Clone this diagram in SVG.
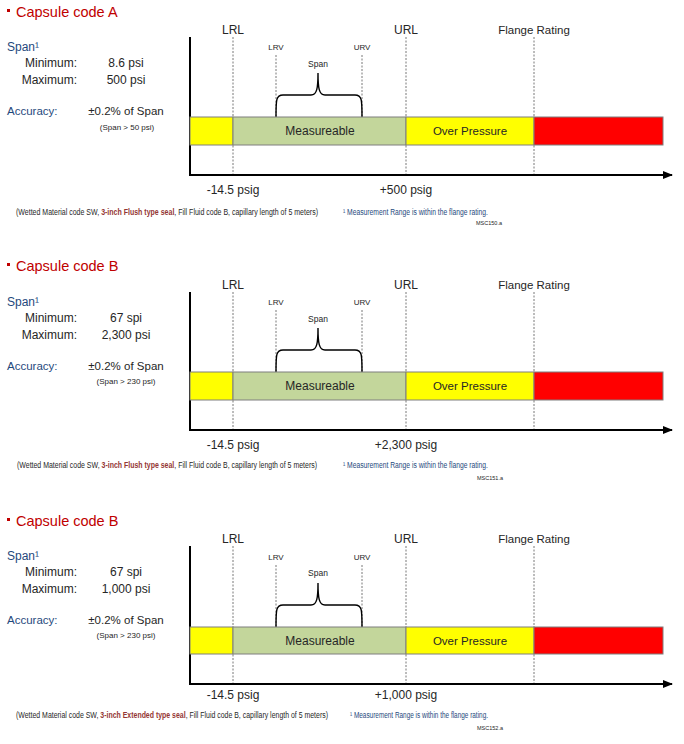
<svg xmlns="http://www.w3.org/2000/svg" width="684" height="744" viewBox="0 0 684 744">
<style>
text{font-family:"Liberation Sans",Arial,sans-serif;fill:#262626}
.title{font-size:14.5px;fill:#C00000}
.blue{fill:#1F497D}
.lbl{font-size:12px}
.lbl11{font-size:11.5px}
.sm{font-size:8px}
.tiny{font-size:5.5px}
.foot{font-size:8.5px}
.bold{font-weight:bold;fill:#943634}
.dash{stroke:#555;stroke-width:0.8;stroke-dasharray:2,1.5;fill:none}
.axis{stroke:#000;stroke-width:2;fill:none}
.seg{stroke:#7f7f7f;stroke-width:1}
.brace{stroke:#000;stroke-width:1.4;fill:none}
</style>
<defs>
<marker id="arrow" markerWidth="10" markerHeight="8" refX="9" refY="4" orient="auto" markerUnits="userSpaceOnUse">
<path d="M0,0 L10,4 L0,8 Z" fill="#000"/>
</marker>
</defs>

<!-- Panel 1 -->
<g id="panel1">
<g id="p1-left">
<rect x="7" y="9" width="3" height="3" fill="#C00000"/>
<text class="title" x="16" y="17">Capsule code A</text>
<text class="lbl blue" x="7" y="51">Span¹</text>
<text class="lbl" x="77" y="67" text-anchor="end">Minimum:</text>
<text class="lbl" x="126" y="67" text-anchor="middle">8.6 psi</text>
<text class="lbl" x="77" y="84" text-anchor="end">Maximum:</text>
<text class="lbl" x="126" y="84" text-anchor="middle">500 psi</text>
<text class="lbl blue" x="7" y="115" style="font-size:11.5px">Accuracy:</text>
<text class="lbl" x="126" y="115" text-anchor="middle" style="font-size:11.5px">±0.2% of Span</text>
<text class="sm" x="127" y="130" text-anchor="middle">(Span &gt; 50 psi)</text>
</g>
<g id="p1-connectors">
<line class="dash" x1="233" y1="37" x2="233" y2="175"/>
<line class="dash" x1="406" y1="37" x2="406" y2="175"/>
<line class="dash" x1="534" y1="37" x2="534" y2="175"/>
<line class="dash" x1="276" y1="55" x2="276" y2="117"/>
<line class="dash" x1="362" y1="55" x2="362" y2="117"/>
<path class="brace" d="M276,117 C276,100 276,95 283,95 L311,95 C317,95 318,88 318,73 C318,88 319,95 325,95 L355,95 C362,95 362,100 362,117"/>
<line class="axis" x1="190" y1="37" x2="190" y2="176"/>
<line class="axis" x1="189" y1="175" x2="672" y2="175" marker-end="url(#arrow)"/>
</g>
<g id="p1-bar">
<rect class="seg" x="190" y="117" width="43" height="28" fill="#FFFF00"/>
<rect class="seg" x="233" y="117" width="173" height="28" fill="#C3D69B"/>
<rect class="seg" x="406" y="117" width="128" height="28" fill="#FFFF00"/>
<rect class="seg" x="534" y="117" width="129" height="28" fill="#FF0000"/>
<text class="lbl" x="320" y="135" text-anchor="middle">Measureable</text>
<text class="lbl" x="470" y="135" text-anchor="middle" style="font-size:11.5px">Over Pressure</text>
</g>
<g id="p1-labels">
<text class="lbl" x="233" y="34" text-anchor="middle">LRL</text>
<text class="lbl" x="406" y="34" text-anchor="middle">URL</text>
<text class="lbl11" x="534" y="34" text-anchor="middle">Flange Rating</text>
<text class="sm" x="276" y="50" text-anchor="middle">LRV</text>
<text class="sm" x="362" y="50" text-anchor="middle">URV</text>
<text class="sm" x="318" y="67" text-anchor="middle" style="font-size:8.5px">Span</text>
<text class="lbl" x="233" y="194" text-anchor="middle">-14.5 psig</text>
<text class="lbl" x="406" y="194" text-anchor="middle">+500 psig</text>
</g>
<g id="p1-notes">
<text class="foot" x="16" y="215" textLength="302" lengthAdjust="spacingAndGlyphs">(Wetted Material code SW, <tspan class="bold">3-inch Flush type seal</tspan>, Fill Fluid code B, capillary length of 5 meters)</text>
<text class="foot blue" x="343" y="215" textLength="145" lengthAdjust="spacingAndGlyphs">¹ Measurement Range is within the flange rating.</text>
<text class="tiny" x="502" y="225" text-anchor="end">MSC150.a</text>
</g>
</g>

<!-- Panel 2 -->
<g id="panel2">
<g id="p2-left">
<rect x="7" y="263" width="3" height="3" fill="#C00000"/>
<text class="title" x="16" y="271">Capsule code B</text>
<text class="lbl blue" x="7" y="306">Span¹</text>
<text class="lbl" x="77" y="322" text-anchor="end">Minimum:</text>
<text class="lbl" x="126" y="322" text-anchor="middle">67 spi</text>
<text class="lbl" x="77" y="339" text-anchor="end">Maximum:</text>
<text class="lbl" x="126" y="339" text-anchor="middle">2,300 psi</text>
<text class="lbl blue" x="7" y="370" style="font-size:11.5px">Accuracy:</text>
<text class="lbl" x="126" y="370" text-anchor="middle" style="font-size:11.5px">±0.2% of Span</text>
<text class="sm" x="126" y="384" text-anchor="middle">(Span &gt; 230 psi)</text>
</g>
<g id="p2-connectors">
<line class="dash" x1="233" y1="292" x2="233" y2="430"/>
<line class="dash" x1="406" y1="292" x2="406" y2="430"/>
<line class="dash" x1="534" y1="292" x2="534" y2="430"/>
<line class="dash" x1="276" y1="310" x2="276" y2="372"/>
<line class="dash" x1="362" y1="310" x2="362" y2="372"/>
<path class="brace" d="M276,372 C276,355 276,350 283,350 L311,350 C317,350 318,343 318,328 C318,343 319,350 325,350 L355,350 C362,350 362,355 362,372"/>
<line class="axis" x1="190" y1="292" x2="190" y2="431"/>
<line class="axis" x1="189" y1="430" x2="672" y2="430" marker-end="url(#arrow)"/>
</g>
<g id="p2-bar">
<rect class="seg" x="190" y="372" width="43" height="28" fill="#FFFF00"/>
<rect class="seg" x="233" y="372" width="173" height="28" fill="#C3D69B"/>
<rect class="seg" x="406" y="372" width="128" height="28" fill="#FFFF00"/>
<rect class="seg" x="534" y="372" width="129" height="28" fill="#FF0000"/>
<text class="lbl" x="320" y="390" text-anchor="middle">Measureable</text>
<text class="lbl" x="470" y="390" text-anchor="middle" style="font-size:11.5px">Over Pressure</text>
</g>
<g id="p2-labels">
<text class="lbl" x="233" y="289" text-anchor="middle">LRL</text>
<text class="lbl" x="406" y="289" text-anchor="middle">URL</text>
<text class="lbl11" x="534" y="289" text-anchor="middle">Flange Rating</text>
<text class="sm" x="276" y="305" text-anchor="middle">LRV</text>
<text class="sm" x="362" y="305" text-anchor="middle">URV</text>
<text class="sm" x="318" y="322" text-anchor="middle" style="font-size:8.5px">Span</text>
<text class="lbl" x="233" y="449" text-anchor="middle">-14.5 psig</text>
<text class="lbl" x="406" y="449" text-anchor="middle">+2,300 psig</text>
</g>
<g id="p2-notes">
<text class="foot" x="17" y="468" textLength="300" lengthAdjust="spacingAndGlyphs">(Wetted Material code SW, <tspan class="bold">3-inch Flush type seal</tspan>, Fill Fluid code B, capillary length of 5 meters)</text>
<text class="foot blue" x="343" y="468" textLength="145" lengthAdjust="spacingAndGlyphs">¹ Measurement Range is within the flange rating.</text>
<text class="tiny" x="503" y="480" text-anchor="end">MSC151.a</text>
</g>
</g>

<!-- Panel 3 -->
<g id="panel3">
<g id="p3-left">
<rect x="7" y="518" width="3" height="3" fill="#C00000"/>
<text class="title" x="16" y="526">Capsule code B</text>
<text class="lbl blue" x="7" y="560">Span¹</text>
<text class="lbl" x="77" y="576" text-anchor="end">Minimum:</text>
<text class="lbl" x="126" y="576" text-anchor="middle">67 spi</text>
<text class="lbl" x="77" y="593" text-anchor="end">Maximum:</text>
<text class="lbl" x="126" y="593" text-anchor="middle">1,000 psi</text>
<text class="lbl blue" x="7" y="624" style="font-size:11.5px">Accuracy:</text>
<text class="lbl" x="126" y="624" text-anchor="middle" style="font-size:11.5px">±0.2% of Span</text>
<text class="sm" x="126" y="638" text-anchor="middle">(Span &gt; 230 psi)</text>
</g>
<g id="p3-connectors">
<line class="dash" x1="233" y1="546" x2="233" y2="684"/>
<line class="dash" x1="406" y1="546" x2="406" y2="684"/>
<line class="dash" x1="534" y1="546" x2="534" y2="684"/>
<line class="dash" x1="276" y1="565" x2="276" y2="627"/>
<line class="dash" x1="362" y1="565" x2="362" y2="627"/>
<path class="brace" d="M276,627 C276,610 276,605 283,605 L311,605 C317,605 318,598 318,583 C318,598 319,605 325,605 L355,605 C362,605 362,610 362,627"/>
<line class="axis" x1="190" y1="546" x2="190" y2="685"/>
<line class="axis" x1="189" y1="684" x2="672" y2="684" marker-end="url(#arrow)"/>
</g>
<g id="p3-bar">
<rect class="seg" x="190" y="627" width="43" height="27" fill="#FFFF00"/>
<rect class="seg" x="233" y="627" width="173" height="27" fill="#C3D69B"/>
<rect class="seg" x="406" y="627" width="128" height="27" fill="#FFFF00"/>
<rect class="seg" x="534" y="627" width="129" height="27" fill="#FF0000"/>
<text class="lbl" x="320" y="645" text-anchor="middle">Measureable</text>
<text class="lbl" x="470" y="645" text-anchor="middle" style="font-size:11.5px">Over Pressure</text>
</g>
<g id="p3-labels">
<text class="lbl" x="233" y="543" text-anchor="middle">LRL</text>
<text class="lbl" x="406" y="543" text-anchor="middle">URL</text>
<text class="lbl11" x="534" y="543" text-anchor="middle">Flange Rating</text>
<text class="sm" x="276" y="560" text-anchor="middle">LRV</text>
<text class="sm" x="362" y="560" text-anchor="middle">URV</text>
<text class="sm" x="318" y="576" text-anchor="middle" style="font-size:8.5px">Span</text>
<text class="lbl" x="233" y="699" text-anchor="middle">-14.5 psig</text>
<text class="lbl" x="406" y="699" text-anchor="middle">+1,000 psig</text>
</g>
<g id="p3-notes">
<text class="foot" x="16" y="718" textLength="312" lengthAdjust="spacingAndGlyphs">(Wetted Material code SW, <tspan class="bold">3-inch Extended type seal</tspan>, Fill Fluid code B, capillary length of 5 meters)</text>
<text class="foot blue" x="350" y="718" textLength="138" lengthAdjust="spacingAndGlyphs">¹ Measurement Range is within the flange rating.</text>
<text class="tiny" x="503" y="730" text-anchor="end">MSC152.a</text>
</g>
</g>
</svg>
